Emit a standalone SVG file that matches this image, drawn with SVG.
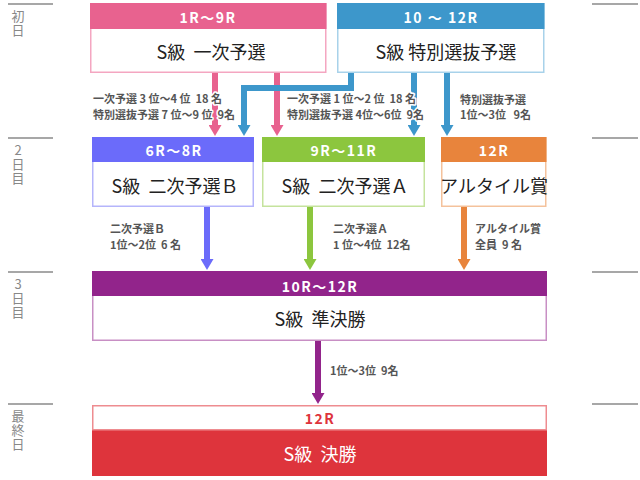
<svg xmlns="http://www.w3.org/2000/svg" width="640" height="480" viewBox="0 0 640 480">
<style>
  .hdr { font-family: "Noto Sans CJK JP", "Noto Sans", sans-serif; font-size: 14px; font-weight: bold; fill: #fff; text-anchor: middle; dominant-baseline: central; letter-spacing: 1.5px; }
  .body { font-family: "Noto Sans CJK JP", "Noto Sans", sans-serif; font-size: 18px; fill: #222; text-anchor: middle; dominant-baseline: central; }
  .lbl { font-family: "Noto Sans CJK JP", "Noto Sans", sans-serif; font-size: 11px; font-weight: bold; fill: #555; stroke: #fff; stroke-width: 3px; paint-order: stroke; stroke-linejoin: round; }
  .day { font-family: "Noto Sans CJK JP", "Noto Sans", sans-serif; font-size: 13px; fill: #888; writing-mode: vertical-rl; text-orientation: upright; letter-spacing: 1px; }
  .rule { stroke: #8a8a8a; stroke-width: 1.5; }
  .conn { fill: none; stroke-width: 6; }
</style>
<defs>
  <marker id="hPink" markerUnits="userSpaceOnUse" markerWidth="12" markerHeight="13" viewBox="0 0 11 13" refX="1" refY="6.5" orient="auto"><path d="M0,0 L11,6.5 L0,13 z" fill="#E8628F"/></marker>
  <marker id="hBlue" markerUnits="userSpaceOnUse" markerWidth="12" markerHeight="13" viewBox="0 0 11 13" refX="1" refY="6.5" orient="auto"><path d="M0,0 L11,6.5 L0,13 z" fill="#3D97CB"/></marker>
  <marker id="hViolet" markerUnits="userSpaceOnUse" markerWidth="12" markerHeight="13" viewBox="0 0 11 13" refX="1" refY="6.5" orient="auto"><path d="M0,0 L11,6.5 L0,13 z" fill="#6B6BFA"/></marker>
  <marker id="hGreen" markerUnits="userSpaceOnUse" markerWidth="12" markerHeight="13" viewBox="0 0 11 13" refX="1" refY="6.5" orient="auto"><path d="M0,0 L11,6.5 L0,13 z" fill="#8CC63E"/></marker>
  <marker id="hOrange" markerUnits="userSpaceOnUse" markerWidth="12" markerHeight="13" viewBox="0 0 11 13" refX="1" refY="6.5" orient="auto"><path d="M0,0 L11,6.5 L0,13 z" fill="#E8843C"/></marker>
  <marker id="hPurple" markerUnits="userSpaceOnUse" markerWidth="12" markerHeight="13" viewBox="0 0 11 13" refX="1" refY="6.5" orient="auto"><path d="M0,0 L11,6.5 L0,13 z" fill="#92248B"/></marker>
</defs>
<rect x="0" y="0" width="640" height="480" fill="#fff"/>

<g id="day-rules">
  <line class="rule" x1="8" y1="4" x2="53" y2="4"/>
  <line class="rule" x1="592" y1="4" x2="638" y2="4"/>
  <line class="rule" x1="8" y1="138" x2="53" y2="138"/>
  <line class="rule" x1="592" y1="138" x2="638" y2="138"/>
  <line class="rule" x1="8" y1="272" x2="53" y2="272"/>
  <line class="rule" x1="592" y1="272" x2="638" y2="272"/>
  <line class="rule" x1="8" y1="404" x2="53" y2="404"/>
  <line class="rule" x1="592" y1="404" x2="638" y2="404"/>
</g>
<g id="day-labels">
  <text class="day" x="18" y="10">初日</text>
  <text class="day" x="18" y="144">2日目</text>
  <text class="day" x="18" y="278">3日目</text>
  <text class="day" x="18" y="410">最終日</text>
</g>

<g id="connectors">
  <path class="conn" stroke="#E8628F" d="M215,73 V126" marker-end="url(#hPink)"/>
  <path class="conn" stroke="#E8628F" d="M277,73 V126" marker-end="url(#hPink)"/>
  <path class="conn" stroke="#3D97CB" d="M351,73 V88 H244 V126" marker-end="url(#hBlue)"/>
  <path class="conn" stroke="#3D97CB" d="M414,73 V126" marker-end="url(#hBlue)"/>
  <path class="conn" stroke="#3D97CB" d="M447,73 V126" marker-end="url(#hBlue)"/>
  <path class="conn" stroke="#6B6BFA" d="M207,207 V260" marker-end="url(#hViolet)"/>
  <path class="conn" stroke="#8CC63E" d="M310,207 V260" marker-end="url(#hGreen)"/>
  <path class="conn" stroke="#E8843C" d="M464,207 V260" marker-end="url(#hOrange)"/>
  <path class="conn" stroke="#92248B" d="M318,341 V394" marker-end="url(#hPurple)"/>
  <g id="connector-labels">
    <text class="lbl" xml:space="preserve"><tspan x="93" y="103">一次予選 3 位〜4 位  18 名</tspan><tspan x="93" y="119">特別選抜予選 7 位〜9 位  9名</tspan></text>
    <text class="lbl" xml:space="preserve"><tspan x="287" y="103">一次予選 1 位〜2 位  18 名</tspan><tspan x="287" y="119">特別選抜予選 4位〜6位  9名</tspan></text>
    <text class="lbl" xml:space="preserve"><tspan x="460" y="104">特別選抜予選</tspan><tspan x="460" y="119">1位〜3位   9名</tspan></text>
    <text class="lbl" xml:space="preserve"><tspan x="110" y="233">二次予選Ｂ</tspan><tspan x="110" y="249">1位〜2位  6 名</tspan></text>
    <text class="lbl" xml:space="preserve"><tspan x="333" y="233">二次予選Ａ</tspan><tspan x="333" y="249">1 位〜4位  12名</tspan></text>
    <text class="lbl" xml:space="preserve"><tspan x="475" y="233">アルタイル賞</tspan><tspan x="475" y="249">全員  9 名</tspan></text>
    <text class="lbl" x="330" y="375" xml:space="preserve">1位〜3位  9名</text>
  </g>
</g>

<g id="node-ichiji">
  <rect x="90.75" y="3.75" width="235" height="68.5" fill="#fff" stroke="#F4A6C1" stroke-width="1.5"/>
  <rect x="90" y="3" width="236.5" height="26" fill="#E8628F"/>
  <text class="hdr" x="208" y="16.5">1R〜9R</text>
  <text class="body" x="211" y="51" xml:space="preserve">S級  一次予選</text>
</g>
<g id="node-tokubetsu">
  <rect x="337.75" y="3.75" width="206" height="68.5" fill="#fff" stroke="#A8D2EA" stroke-width="1.5"/>
  <rect x="337" y="3" width="207.5" height="26" fill="#3D97CB"/>
  <text class="hdr" x="441" y="16.5" xml:space="preserve">10 〜 12R</text>
  <text class="body" x="446" y="51" xml:space="preserve">S級 特別選抜予選</text>
</g>
<g id="node-nijiB">
  <rect x="92.75" y="137.75" width="160.5" height="68.5" fill="#fff" stroke="#B5B5FB" stroke-width="1.5"/>
  <rect x="92" y="137" width="162" height="25" fill="#6B6BFA"/>
  <text class="hdr" x="174" y="150">6R〜8R</text>
  <text class="body" x="175" y="185" xml:space="preserve">S級  二次予選Ｂ</text>
</g>
<g id="node-nijiA">
  <rect x="262.75" y="137.75" width="161.5" height="68.5" fill="#fff" stroke="#C5E39D" stroke-width="1.5"/>
  <rect x="262" y="137" width="163" height="25" fill="#8CC63E"/>
  <text class="hdr" x="344" y="150">9R〜11R</text>
  <text class="body" x="345" y="185" xml:space="preserve">S級  二次予選Ａ</text>
</g>
<g id="node-altair">
  <rect x="441.75" y="137.75" width="104" height="68.5" fill="#fff" stroke="#F4C29C" stroke-width="1.5"/>
  <rect x="441" y="137" width="105.5" height="25" fill="#E8843C"/>
  <text class="hdr" x="494" y="150">12R</text>
  <text class="body" x="494" y="185">アルタイル賞</text>
</g>
<g id="node-junkessho">
  <rect x="92.75" y="271.75" width="453.5" height="68.5" fill="#fff" stroke="#C88FC4" stroke-width="1.5"/>
  <rect x="92" y="271" width="455" height="25" fill="#92248B"/>
  <text class="hdr" x="320" y="286">10R〜12R</text>
  <text class="body" x="320" y="318" xml:space="preserve">S級  準決勝</text>
</g>
<g id="node-kessho">
  <rect x="92" y="429" width="455" height="47" fill="#DE343C"/>
  <rect x="92.75" y="405.75" width="453.5" height="24" fill="#fff" stroke="#EE8C90" stroke-width="1.5"/>
  <text class="hdr" x="320" y="418" style="fill:#DE343C">12R</text>
  <text class="body" x="320" y="453" style="fill:#fff" xml:space="preserve">S級  決勝</text>
</g>
</svg>
